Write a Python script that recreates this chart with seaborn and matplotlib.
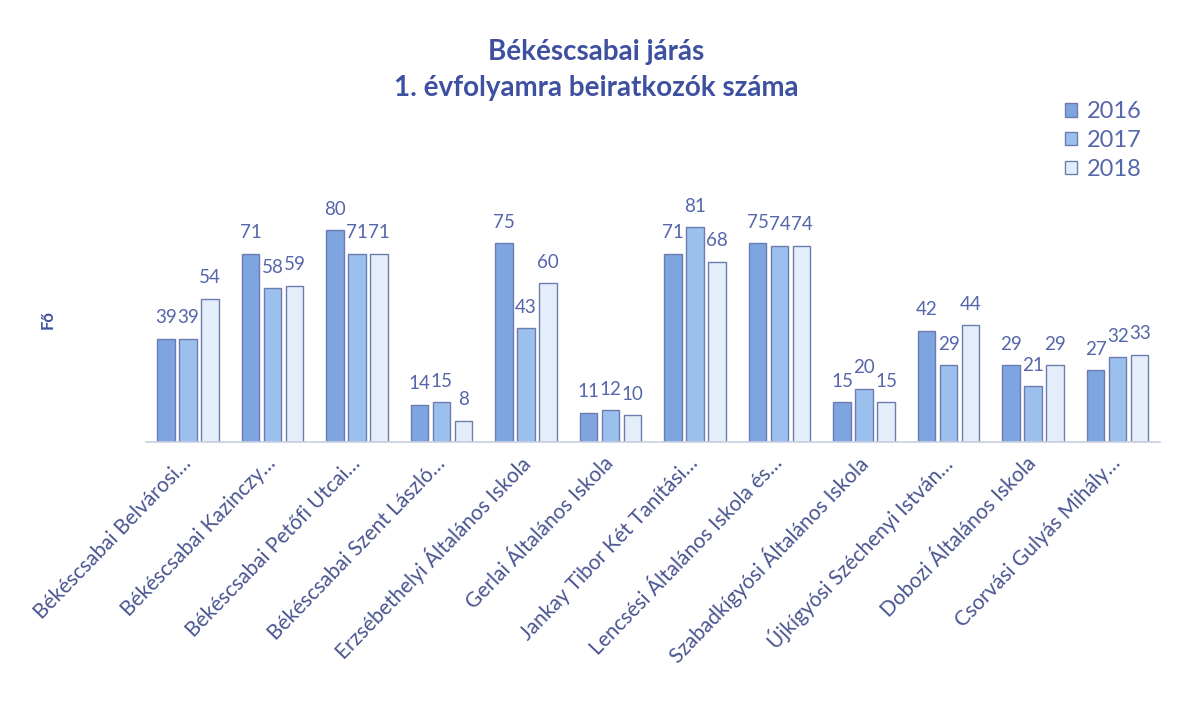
import matplotlib
matplotlib.use("Agg")
import matplotlib.pyplot as plt
import seaborn as sns
import pandas as pd

schools = [
    "Békéscsabai Belvárosi…",
    "Békéscsabai Kazinczy…",
    "Békéscsabai Petőfi Utcai…",
    "Békéscsabai Szent László…",
    "Erzsébethelyi Általános Iskola",
    "Gerlai Általános Iskola",
    "Jankay Tibor Két Tanítási…",
    "Lencsési Általános Iskola és…",
    "Szabadkígyósi Általános Iskola",
    "Újkígyósi Széchenyi István…",
    "Dobozi Általános Iskola",
    "Csorvási Gulyás Mihály…",
]
years = ["2016", "2017", "2018"]
v2016 = [39, 71, 80, 14, 75, 11, 71, 75, 15, 42, 29, 27]
v2017 = [39, 58, 71, 15, 43, 12, 81, 74, 20, 29, 21, 32]
v2018 = [54, 59, 71, 8, 60, 10, 68, 74, 15, 44, 29, 33]

title = "Békéscsabai járás\n1. évfolyamra beiratkozók száma"
ylabel = "Fő"

df = pd.DataFrame({
    "iskola": schools * 3,
    "ev": [y for y in years for _ in schools],
    "fo": v2016 + v2017 + v2018,
})

sns.set_theme(style="white")
plt.rcParams['font.family'] = ['Lato', 'DejaVu Sans']

fig = plt.figure(figsize=(11.86, 7.14), dpi=100)
ax = fig.add_axes([0.123, 0.381, 0.855, 0.371])

palette = {"2016": "#7ea5e0", "2017": "#9cc0ee", "2018": "#e4eefa"}
sns.barplot(data=df, x="iskola", y="fo", hue="ev", hue_order=years,
            palette=palette, width=0.78, gap=0.2, ax=ax,
            edgecolor="#6d7cae", linewidth=1.0, saturation=1)

label_color = "#5566aa"
for cont in ax.containers:
    ax.bar_label(cont, padding=9, fontsize=13.5, color=label_color)

ax.set_xlim(-0.5, len(schools) - 0.5)
ax.set_ylim(0, 100)
ax.set_yticks([])
ax.set_xlabel("")
ax.set_ylabel("")
for s in ["top", "right", "left"]:
    ax.spines[s].set_visible(False)
ax.spines["bottom"].set_color("#c9d0e0")
ax.spines["bottom"].set_linewidth(1.2)

ax.set_xticks(range(len(schools)))
ax.set_xticklabels(schools, rotation=46, ha="right", va="center",
                   rotation_mode="anchor", fontsize=15, color="#4a5590")
ax.tick_params(axis="x", length=0, pad=13)

fig.text(0.503, 0.902, title, ha="center", va="center", fontsize=20,
         fontweight="bold", color="#3e50a0", linespacing=1.5)
fig.text(0.040, 0.552, ylabel, rotation=90, ha="center", va="center",
         fontsize=12, fontweight="bold", color="#3e50a0")

handles, labels = ax.get_legend_handles_labels()
ax.legend(handles, labels, loc="upper left", bbox_to_anchor=(0.880, 0.888),
          bbox_transform=fig.transFigure, frameon=False, fontsize=17,
          labelcolor="#5566aa", handlelength=0.5, handleheight=0.5,
          handletextpad=0.45, labelspacing=0.33)

fig.savefig("out.png", dpi=100)
